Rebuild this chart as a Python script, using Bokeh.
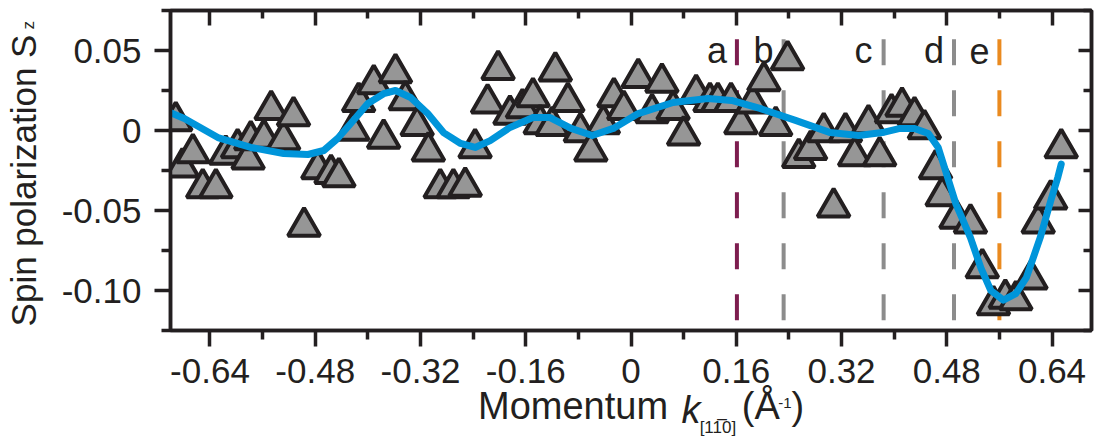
import math
from bokeh.plotting import figure
from bokeh.models import Range1d, LinearAxis, FixedTicker, Label
from bokeh.core.properties import value
from bokeh.embed import file_html
from bokeh.resources import INLINE

# ---------------- data ----------------
K_DATA = [-0.692, -0.682, -0.666, -0.651, -0.631, -0.616, -0.598, -0.582, -0.578, -0.558,
          -0.547, -0.528, -0.513, -0.497, -0.476, -0.456, -0.444, -0.423, -0.414, -0.391,
          -0.376, -0.358, -0.343, -0.325, -0.308, -0.290, -0.270, -0.252, -0.237, -0.218,
          -0.202, -0.184, -0.165, -0.149, -0.138, -0.120, -0.115, -0.096, -0.077, -0.061,
          -0.042, -0.026, -0.011, 0.011, 0.032, 0.047, 0.064, 0.080, 0.099, 0.120,
          0.132, 0.152, 0.167, 0.185, 0.202, 0.220, 0.238, 0.255, 0.273, 0.293,
          0.308, 0.326, 0.340, 0.361, 0.378, 0.396, 0.412, 0.431, 0.446, 0.463,
          0.473, 0.494, 0.516, 0.534, 0.551, 0.569, 0.585, 0.608, 0.619, 0.638,
          0.654]
SZ_DATA = [0.006, -0.023, -0.014, -0.036, -0.036, -0.015, -0.011, -0.018, -0.006, -0.005,
           0.013, -0.006, 0.009, -0.060, -0.024, -0.027, -0.029, 0.000, 0.018, 0.029,
           -0.005, 0.036, 0.019, 0.003, -0.013, -0.036, -0.036, -0.035, -0.011, 0.017,
           0.038, 0.010, 0.014, 0.021, 0.004, 0.003, 0.037, 0.018, -0.001, -0.013,
           0.004, 0.021, 0.013, 0.033, 0.011, 0.030, 0.013, -0.003, 0.023, 0.018,
           0.018, 0.018, 0.004, 0.017, 0.031, 0.003, 0.044, -0.017, -0.012, -0.001,
           -0.048, -0.001, -0.016, 0.004, -0.016, 0.011, 0.015, 0.009, 0.001, -0.024,
           -0.041, -0.055, -0.058, -0.086, -0.109, -0.105, -0.106, -0.093, -0.058, -0.043,
           -0.011]

FIT_K = [-0.699, -0.679, -0.628, -0.578, -0.528, -0.491, -0.467, -0.446, -0.426, -0.400,
         -0.376, -0.358, -0.335, -0.309, -0.285, -0.259, -0.237, -0.214, -0.184, -0.149,
         -0.123, -0.091, -0.059, -0.027, 0.011, 0.064, 0.117, 0.153, 0.196, 0.250,
         0.303, 0.346, 0.382, 0.409, 0.431, 0.452, 0.467, 0.478, 0.494, 0.516,
         0.532, 0.547, 0.566, 0.585, 0.601, 0.622, 0.638, 0.649, 0.654]
FIT_SZ = [0.0110, 0.0075, -0.0044, -0.0106, -0.0144, -0.0150, -0.0125, -0.0050, 0.0044, 0.0169,
          0.0230, 0.0250, 0.0206, 0.0106, -0.0013, -0.0081, -0.0106, -0.0063, 0.0019, 0.0081,
          0.0081, 0.0013, -0.0031, 0.0013, 0.0106, 0.0175, 0.0200, 0.0188, 0.0138, 0.0063,
          -0.0013, -0.0031, -0.0013, 0.0013, 0.0013, -0.0019, -0.0106, -0.0250, -0.0460, -0.0670,
          -0.0860, -0.1000, -0.1060, -0.1020, -0.0920, -0.0670, -0.0440, -0.0290, -0.0210]

CUT_K = [0.161, 0.232, 0.384, 0.491, 0.560]
CUT_LABELS = ["a", "b", "c", "d", "e"]
CUT_COLORS = ["#7d1d4f", "#8c8c8c", "#8c8c8c", "#8c8c8c", "#ea8a1f"]
CUT_TOP, CUT_BOTTOM, CUT_LABEL_Y = 0.057, -0.119, 0.050

XTICKS = [-0.64, -0.48, -0.32, -0.16, 0.0, 0.16, 0.32, 0.48, 0.64]
XTICK_LABELS = ["-0.64", "-0.48", "-0.32", "-0.16", "0", "0.16", "0.32", "0.48", "0.64"]
XMINOR = [-0.56, -0.40, -0.24, -0.08, 0.08, 0.24, 0.40, 0.56]
YTICKS = [0.05, 0.0, -0.05, -0.10]
YTICK_LABELS = ["0.05", "0", "-0.05", "-0.10"]
YMINOR = [0.075, 0.025, -0.025, -0.075, -0.125]
X_RANGE = (-0.70, 0.70)
Y_RANGE = (-0.125, 0.075)

# ---------------- style ----------------
INK = "#231f20"
FONT = "Liberation Sans"
W, H = 1098, 442
ML, MR, MT, MB = 169, 7, 10, 112
FX0, FX1, FY0, FY1 = ML, W - MR, MT, H - MB


def px_to_x(px):
    return X_RANGE[0] + (px - FX0) / (FX1 - FX0) * (X_RANGE[1] - X_RANGE[0])


def py_to_y(py):
    return Y_RANGE[1] - (py - FY0) / (FY1 - FY0) * (Y_RANGE[1] - Y_RANGE[0])


p = figure(width=W, height=H, x_range=Range1d(*X_RANGE), y_range=Range1d(*Y_RANGE),
           output_backend="svg", toolbar_location=None,
           x_axis_location=None, y_axis_location=None,
           min_border_left=ML, min_border_right=MR, min_border_top=MT, min_border_bottom=MB)
p.grid.visible = False
p.outline_line_color = INK
p.outline_line_width = 3.5
p.background_fill_color = "white"
p.border_fill_color = "white"


def make_axis(ticks, minor, labels, tick_in, tick_out, minor_in, minor_out, show_labels, standoff):
    ax = LinearAxis(ticker=FixedTicker(ticks=ticks, minor_ticks=minor))
    ax.axis_line_color = INK
    ax.axis_line_width = 3.5
    ax.major_tick_line_color = INK
    ax.major_tick_line_width = 3.5
    ax.minor_tick_line_color = INK
    ax.minor_tick_line_width = 3.5
    ax.major_tick_in = tick_in
    ax.major_tick_out = tick_out
    ax.minor_tick_in = minor_in
    ax.minor_tick_out = minor_out
    ax.major_label_standoff = standoff
    if show_labels:
        ax.major_label_overrides = {t: l for t, l in zip(ticks, labels)}
        ax.major_label_text_font = FONT
        ax.major_label_text_font_size = "35px"
        ax.major_label_text_color = INK
    else:
        ax.major_label_overrides = {t: "" for t in ticks}
        ax.major_label_text_font_size = "0px"
    return ax


p.add_layout(make_axis(XTICKS, XMINOR, XTICK_LABELS, 0, 16, 0, 9, True, 12), "below")
p.add_layout(make_axis(YTICKS, YMINOR, YTICK_LABELS, 0, 16, 0, 9, True, 13), "left")
p.add_layout(make_axis(XTICKS, XMINOR, XTICK_LABELS, 15, 0, 8, 0, False, 0), "above")
p.add_layout(make_axis(YTICKS, YMINOR, YTICK_LABELS, 13, 0, 8, 0, False, 0), "right")


# x-axis title pieces: invisible axes whose tick labels carry the rich text
def text_axis(centers_px, texts, size, standoff, style="normal"):
    ticks = [px_to_x(c) for c in centers_px]
    ax = LinearAxis(ticker=FixedTicker(ticks=ticks, minor_ticks=[]))
    ax.axis_line_color = None
    ax.major_tick_line_color = None
    ax.minor_tick_line_color = None
    ax.major_tick_in = 0
    ax.major_tick_out = 0
    ax.minor_tick_in = 0
    ax.minor_tick_out = 0
    ax.major_label_standoff = standoff
    ax.major_label_overrides = {t: s for t, s in zip(ticks, texts)}
    ax.major_label_text_font = FONT
    ax.major_label_text_font_size = size
    ax.major_label_text_font_style = style
    ax.major_label_text_color = INK
    p.add_layout(ax, "below")


text_axis([572, 760, 797], ["Momentum", "(\u00c5", ")"], "38px", -1)
text_axis([690], ["k"], "38px", -41, style="italic")
text_axis([717], ["[11\u03050]"], "17px", -16)
text_axis([784], ["-1"], "15px", -42)

# dashed cut lines
p.segment(x0=CUT_K, y0=[CUT_TOP] * len(CUT_K), x1=CUT_K, y1=[CUT_BOTTOM] * len(CUT_K),
          line_color=CUT_COLORS, line_width=4, line_dash="26 25")
p.text(x=CUT_K, y=[CUT_LABEL_Y] * len(CUT_K), text=CUT_LABELS, x_offset=-20,
       text_align="center", text_baseline="alphabetic", text_font=value(FONT),
       text_font_size="36px", text_color=INK)

# data points
p.scatter(K_DATA, SZ_DATA, marker="triangle", size=32, fill_color="#969696",
          line_color=INK, line_width=4)

# fit curve
p.line(FIT_K, FIT_SZ, line_color="#0095da", line_width=7, line_join="round", line_cap="round")


# y-axis title as labels placed in the left side panel (not clipped to the frame)
def add_label(side, text, px, py, size, align="left", angle=0.0, style="normal"):
    p.add_layout(Label(x=px_to_x(px), y=py_to_y(py), text=text, angle=angle,
                       text_align=align, text_baseline="alphabetic", text_font=FONT,
                       text_font_size=size, text_font_style=style, text_color=INK), side)


add_label("left", "Spin polarization S", 22, 180, "35px", align="center", angle=math.pi / 2)
add_label("left", "z", 27, 29, "17px", angle=math.pi / 2)

open("out.html", "w").write(file_html(p, INLINE))
